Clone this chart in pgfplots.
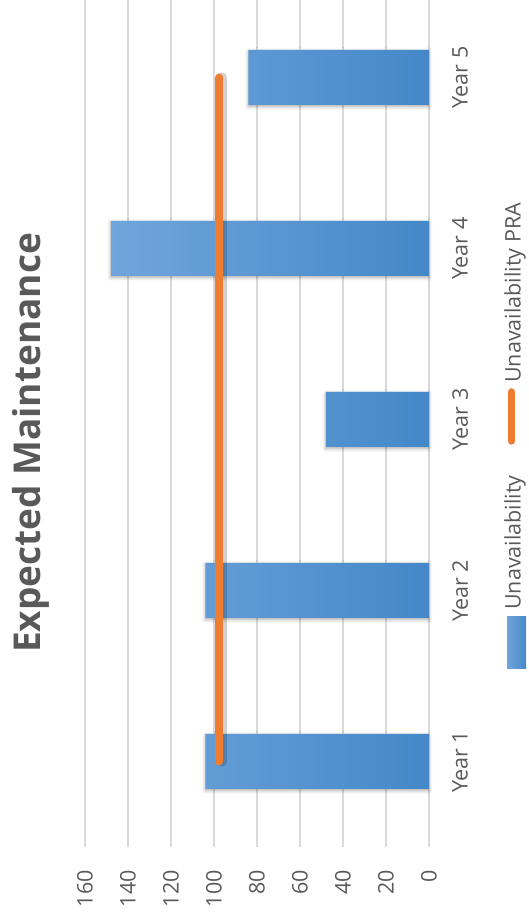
\documentclass[border=0pt]{standalone}
\usepackage{pgfplots}
\pgfplotsset{compat=1.18}
\usetikzlibrary{shadows.blur}
\usepackage{fontspec}
\setmainfont{Open Sans}
\definecolor{txt}{HTML}{595959}
\definecolor{gridc}{HTML}{D9D9D9}
\definecolor{blueL}{HTML}{70A5DB}
\definecolor{blueD}{HTML}{4488C9}
\definecolor{org}{HTML}{ED7D31}
\begin{document}
\begin{tikzpicture}
\begin{axis}[
  at={(85pt,72pt)}, anchor=south west,
  scale only axis, width=344pt, height=855pt,
  xmin=0, xmax=160, x dir=reverse,
  ymin=0.5, ymax=5.5,
  xtick={0,20,...,160},
  ytick={1,2,3,4,5},
  yticklabels={Year 1,Year 2,Year 3,Year 4,Year 5},
  yticklabel pos=right,
  xmajorgrids, ymajorgrids=false,
  grid style={draw=gridc, line width=1.3pt},
  axis line style={draw=none},
  major tick length=0pt,
  tick style={draw=none},
  /pgf/number format/assume math mode=true,
  ticklabel style={font=\fontsize{21.5}{24}\selectfont, text=txt, inner sep=0pt},
  xticklabel style={rotate=90, anchor=east},
  yticklabel style={rotate=90, anchor=north},
  xticklabel shift=23pt, yticklabel shift=23pt,
  clip=false,
]
\addplot[xbar, bar width=55pt, bar shift=0pt, draw=none, left color=blueL, right color=blueD,
  blur shadow={shadow xshift=0pt, shadow yshift=-1.5pt, shadow blur radius=3.5pt, shadow opacity=35}]
  coordinates {(104,1) (104,2) (48,3) (148,4) (84,5)};
\addplot[draw=black, opacity=0.18, line width=10pt, line cap=round, transform canvas={xshift=3pt}, forget plot]
  coordinates {(97.5,1) (97.5,5)};
\addplot[draw=org, line width=8pt, line cap=round]
  coordinates {(97.5,1) (97.5,5)};
\end{axis}
\node[rotate=90, font=\fontsize{37}{40}\selectfont\bfseries, text=txt] at (30.5pt,476pt) {Expected Maintenance};
\fill[left color=blueL, right color=blueD] (507pt,250pt) rectangle (526pt,302pt);
\draw[org, line width=7.5pt, line cap=round] (511.5pt,478pt) -- (511.5pt,527pt);
\node[rotate=90, anchor=base west, inner sep=0pt, font=\fontsize{21.5}{24}\selectfont, text=txt] at (520.5pt,309pt) {Unavailability};
\node[rotate=90, anchor=base west, inner sep=0pt, font=\fontsize{21.5}{24}\selectfont, text=txt] at (520.5pt,536pt) {Unavailability PRA};
\pgfresetboundingbox
\useasboundingbox (0,0) rectangle (528pt,919pt);
\end{tikzpicture}
\end{document}
